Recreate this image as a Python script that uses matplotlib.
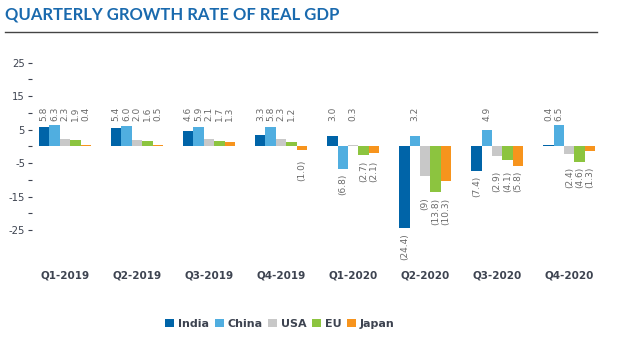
# Quarterly growth rate of real GDP, grouped bar chart

import numpy as np
import matplotlib.pyplot as plt
from matplotlib.lines import Line2D
from matplotlib.patches import Patch

quarters = ['Q1-2019', 'Q2-2019', 'Q3-2019', 'Q4-2019',
            'Q1-2020', 'Q2-2020', 'Q3-2020', 'Q4-2020']
countries = ['India', 'China', 'USA', 'EU', 'Japan']

india = [5.8, 5.4, 4.6, 3.3, 3.0, -24.4, -7.4, 0.4]
china = [6.3, 6.0, 5.9, 5.8, -6.8, 3.2, 4.9, 6.5]
usa = [2.3, 2.0, 2.1, 2.3, 0.3, -9.0, -2.9, -2.4]
eu = [1.9, 1.6, 1.7, 1.2, -2.7, -13.8, -4.1, -4.6]
japan = [0.4, 0.5, 1.3, -1.0, -2.1, -10.3, -5.8, -1.3]

# labels as printed on the chart (negatives in brackets)
india_txt = ['5.8', '5.4', '4.6', '3.3', '3.0', '(24.4)', '(7.4)', '0.4']
china_txt = ['6.3', '6.0', '5.9', '5.8', '(6.8)', '3.2', '4.9', '6.5']
usa_txt = ['2.3', '2.0', '2.1', '2.3', '0.3', '(9)', '(2.9)', '(2.4)']
eu_txt = ['1.9', '1.6', '1.7', '1.2', '(2.7)', '(13.8)', '(4.1)', '(4.6)']
japan_txt = ['0.4', '0.5', '1.3', '(1.0)', '(2.1)', '(10.3)', '(5.8)', '(1.3)']

yticks = [-25, -20, -15, -10, -5, 0, 5, 10, 15, 20, 25]
ytick_labels = ['-25', '', '-15', '', '-5', '', '5', '', '15', '', '25']

colors = ['#0064a8', '#50aee0', '#c8c8c8', '#8cc43f', '#f7941d']
text_dark = '#3d4350'

series = np.array([india, china, usa, eu, japan])
texts = [india_txt, china_txt, usa_txt, eu_txt, japan_txt]

fig = plt.figure(figsize=(6.37, 3.53), dpi=100)
ax = fig.add_axes([0.0502, 0.2538, 0.900, 0.616])

x = np.arange(len(quarters))
bw = 0.1444
for i, name in enumerate(countries):
    ax.bar(x + (i - 2) * bw, series[i], width=bw, color=colors[i], label=name)

# value labels: positives on a common line above, negatives grouped below
for q in range(len(quarters)):
    vals = series[:, q]
    i = 0
    while i < len(countries):
        if vals[i] >= 0:
            ax.text(q + (i - 2) * bw, 7.5, texts[i][q], rotation=90,
                    ha='center', va='bottom', fontsize=6.5, color='#6a6a6a')
            i += 1
        else:
            j = i
            while j < len(countries) and vals[j] < 0:
                j += 1
            pos = min(vals[i:j].min() - 1.5, -4.0)
            for k in range(i, j):
                ax.text(q + (k - 2) * bw, pos, texts[k][q], rotation=90,
                        ha='center', va='top', fontsize=6.5, color='#6a6a6a')
            i = j

ax.set_xlim(-0.458, 7.5)
ax.set_ylim(-35, 30)
ax.set_xticks(x)
ax.set_xticklabels(quarters, fontsize=7.5, fontweight='bold', color=text_dark)
ax.set_yticks(yticks)
ax.set_yticklabels(ytick_labels, fontsize=7.2, color=text_dark)
ax.tick_params(axis='x', length=0, pad=5)
ax.tick_params(axis='y', length=3, width=0.8, color=text_dark, pad=2)
for s in ax.spines.values():
    s.set_visible(False)

fig.text(5 / 637, 1 - 15 / 353, 'QUARTERLY GROWTH RATE OF REAL GDP',
         fontsize=12, fontweight='bold', color='#1a6aae', family='Lato',
         ha='left', va='center')
fig.add_artist(Line2D([5 / 637, 597 / 637], [1 - 31.5 / 353, 1 - 31.5 / 353],
                      color='#444444', linewidth=1))

handles = [Patch(facecolor=c, edgecolor='none') for c in colors]
leg = fig.legend(handles, countries, loc='center', ncol=5,
                 bbox_to_anchor=(280 / 637, 1 - 324 / 353), frameon=False,
                 handlelength=0.8, handleheight=0.8, handletextpad=0.35,
                 columnspacing=0.5, prop={'size': 8, 'weight': 'bold'})
for t in leg.get_texts():
    t.set_color(text_dark)

fig.savefig('out.png', dpi=100)
